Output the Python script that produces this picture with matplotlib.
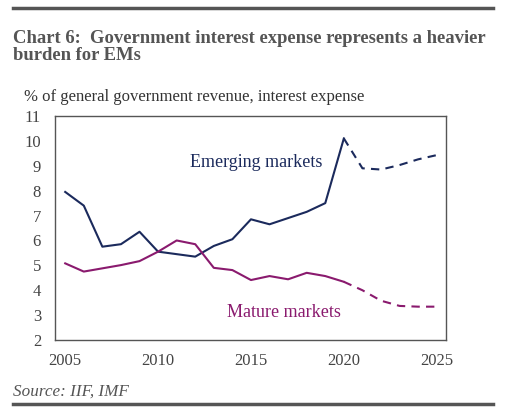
import matplotlib.pyplot as plt
from matplotlib.lines import Line2D

years = list(range(2005, 2026))
emerging = [7.95, 7.4, 5.75, 5.85, 6.35, 5.55, 5.45, 5.35, 5.78, 6.05, 6.85,
            6.65, 6.9, 7.15, 7.5, 10.1, 8.9, 8.85, 9.03, 9.26, 9.43]
mature = [5.08, 4.75, 4.88, 5.01, 5.17, 5.55, 6.0, 5.85, 4.9, 4.81, 4.41,
          4.57, 4.44, 4.7, 4.57, 4.34, 4.0, 3.58, 3.37, 3.34, 3.34]
forecast_start = 2020  # dashed from here on

y_ticks = list(range(2, 12))
x_ticks = [2005, 2010, 2015, 2020, 2025]

EM_COLOR = '#1b2a5c'
MM_COLOR = '#8a1a6e'
GREY = '#555555'

plt.rcParams['font.family'] = ['Liberation Serif', 'DejaVu Serif']

fig = plt.figure(figsize=(5.13, 4.11), dpi=100)
ax = fig.add_axes([0.1072, 0.1727, 0.7622, 0.545])

split = years.index(forecast_start)
for vals, color in [(emerging, EM_COLOR), (mature, MM_COLOR)]:
    ax.plot(years[:split + 1], vals[:split + 1], color=color, linewidth=1.5)
    ax.plot(years[split:], vals[split:], color=color, linewidth=1.5,
            linestyle=(0, (4, 3)))

ax.set_xlim(2004.45, 2025.5)
ax.set_ylim(2, 11)
ax.set_yticks(y_ticks)
ax.set_xticks(x_ticks)
ax.tick_params(length=0, labelsize=12, colors='#444444')
ax.tick_params(axis='y', pad=10)
ax.tick_params(axis='x', pad=9)
for s in ax.spines.values():
    s.set_color(GREY)
    s.set_linewidth(1.0)

ax.text(2015.3, 9.15, 'Emerging markets', color=EM_COLOR, fontsize=13,
        ha='center', va='center')
ax.text(2016.8, 3.12, 'Mature markets', color=MM_COLOR, fontsize=13,
        ha='center', va='center')

# header / footer
fig.add_artist(Line2D([13 / 513, 493 / 513], [1 - 8 / 411, 1 - 8 / 411],
                      color=GREY, linewidth=2.5))
fig.add_artist(Line2D([13 / 513, 493 / 513], [1 - 404 / 411, 1 - 404 / 411],
                      color=GREY, linewidth=2.5))
fig.text(13 / 513, 1 - 30 / 411,
         'Chart 6:  Government interest expense represents a heavier\nburden for EMs',
         fontsize=13.4, fontweight='bold', color=GREY, va='top', ha='left',
         linespacing=1.0)
fig.text(24 / 513, 1 - 97 / 411, '% of general government revenue, interest expense',
         fontsize=12, color='#333333', va='center', ha='left')
fig.text(13 / 513, 1 - 392 / 411, 'Source: IIF, IMF', fontsize=12.3,
         fontstyle='italic', color=GREY, va='center', ha='left')

fig.savefig('out.png', dpi=100, facecolor='white')
